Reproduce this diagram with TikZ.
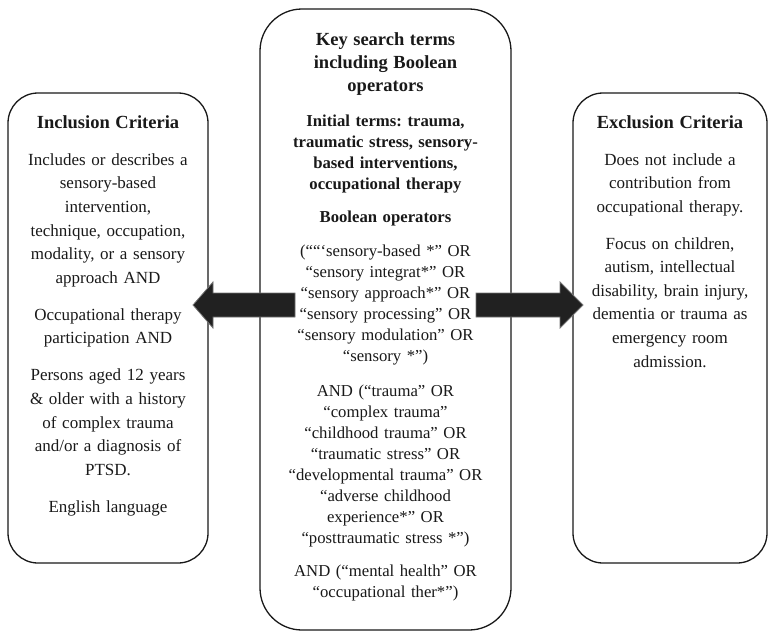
\documentclass[tikz,border=0pt]{standalone}
\usepackage{fontspec}
\setmainfont{Liberation Serif}
\usetikzlibrary{positioning}
\frenchspacing

\begin{document}
\begin{tikzpicture}[x=1pt, y=-1pt]
            \tikzset{critbox/.style={draw=black!90, line width=1.3pt, rounded corners=30pt, minimum width=200pt, minimum height=470pt}}
            \tikzset{crittext/.style={inner sep=0pt, align=center, text width=190pt, text=black!90, font=\fontsize{17}{23.6}\selectfont}}
            \tikzset{blockarrow/.style={fill=black!87, draw=black!55, line width=0.8pt, line join=miter}}
            \useasboundingbox (0, 0) rectangle (768, 630);
            % the three boxes
            \node[critbox] (incl) at (108, 328) {};
            \node[critbox, minimum width=251pt, minimum height=621pt, rounded corners=42pt] (keys) at (385.5, 319.5) {};
            \node[critbox, minimum width=194pt] (excl) at (670, 328) {};
            % texts
            \node[crittext, below=23pt of incl.north] (incltext) {%
                {\fontsize{18.5}{23.6}\selectfont\bfseries Inclusion Criteria}\\[13.4pt]
                Includes or describes a\\ sensory-based\\ intervention,\\ technique, occupation,\\ modality, or a sensory\\ approach AND\\[13.4pt]
                Occupational therapy\\ participation AND\\[13.4pt]
                Persons aged 12 years\\ \& older with a history\\ of complex trauma\\ and/or a diagnosis of\\ PTSD.\\[13.4pt]
                English language};
            \node[crittext, text width=235pt, font=\fontsize{16.7}{21}\selectfont, below=24.5pt of keys.north] (keytext) {%
                {\fontsize{18.5}{23}\selectfont\bfseries Key search terms\\ including Boolean\\ operators\par}
                \vspace{13.5pt}
                {\bfseries Initial terms: trauma,\\ traumatic stress, sensory-\\ based interventions,\\ occupational therapy}\\[12pt]
                {\bfseries Boolean operators}\\[13pt]
                (““‘sensory-based *” OR\\ “sensory integrat*” OR\\ “sensory approach*” OR\\ “sensory processing” OR\\ “sensory modulation” OR\\ “sensory *”)\\[14pt]
                AND (“trauma” OR\\ “complex trauma”\\ “childhood trauma” OR\\ “traumatic stress” OR\\ “developmental trauma” OR\\ “adverse childhood\\ experience*” OR\\ “posttraumatic stress *”)\\[12pt]
                AND (“mental health” OR\\ “occupational ther*”)};
            \node[crittext, text width=185pt, below=23pt of excl.north] (excltext) {%
                {\fontsize{18.5}{23.6}\selectfont\bfseries Exclusion Criteria}\\[13.4pt]
                Does not include a\\ contribution from\\ occupational therapy.\\[13pt]
                Focus on children,\\ autism, intellectual\\ disability, brain injury,\\ dementia or trauma as\\ emergency room\\ admission.};
            % block arrows out of the middle box
            \coordinate (ltip) at (193, 305);
            \coordinate (rtip) at (583, 305);
            \draw[blockarrow] (ltip) -- ++(20, -23) -- ++(0, 11) -- ++(82, 0) -- ++(0, 24) -- ++(-82, 0) -- ++(0, 11) -- cycle;
            \draw[blockarrow] (rtip) -- ++(-23, -23) -- ++(0, 11) -- ++(-84, 0) -- ++(0, 24) -- ++(84, 0) -- ++(0, 11) -- cycle;
        \end{tikzpicture}
\end{document}
